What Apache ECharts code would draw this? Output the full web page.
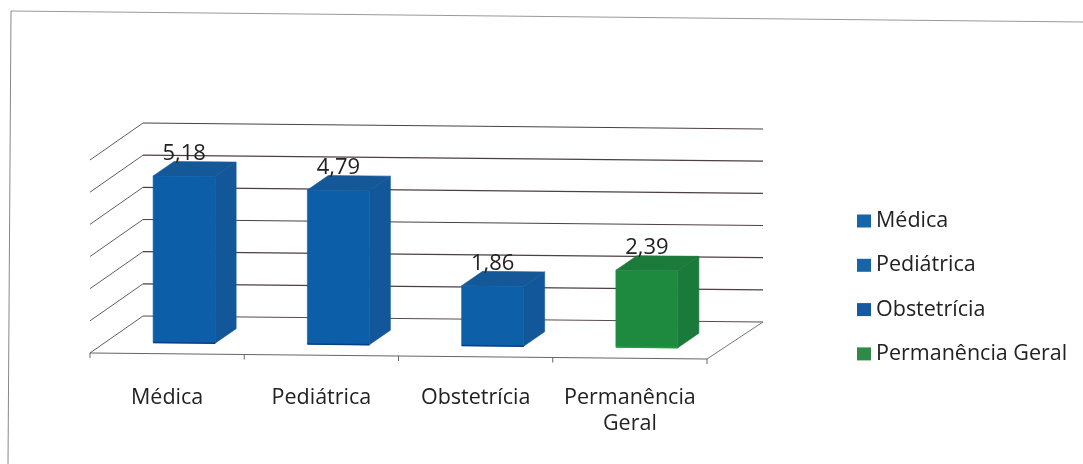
<!DOCTYPE html>
<html>
<head>
<meta charset="utf-8">
<style>html,body{margin:0;padding:0;background:#fff}#c{width:1083px;height:464px}</style>
<script src="https://cdn.jsdelivr.net/npm/echarts@6/dist/echarts.min.js"></script>
</head>
<body>
<div id="c"></div>
<script>
const categories = ['Médica', 'Pediátrica', 'Obstetrícia', 'Permanência\nGeral'];
const seriesNames = ['Médica', 'Pediátrica', 'Obstetrícia', 'Permanência Geral'];
const values = [5.18, 4.79, 1.86, 2.39];
const valueTicks = [0, 1, 2, 3, 4, 5, 6];
const frontColors = ['#0d5ea8', '#0d5ea8', '#0d5fa8', '#1d8a40'];
const sideColors = ['#11579a', '#11579a', '#11579a', '#1a7a3c'];
const topColors = ['#155897', '#155897', '#155897', '#1c7a3b'];
const edgeColors = ['#0a3f80', '#0a3f80', '#0a3f80', '#25a038'];
const legendColors = ['#1565a8', '#1565a8', '#1559a0', '#2f8a48'];

const SKEW = 0.0097, GRID_LEFT = 90;
const WALL = [53, -37], WALL_R = [56, -37], BAR_OFF = [17, -11], BAR_DEPTH = [21, -14.5], BAR_W = 62;
const sk = (x, y) => [x, y + SKEW * (x - GRID_LEFT)];
const line = (a, b, stroke, w) => ({ type: 'line', shape: { x1: a[0], y1: a[1], x2: b[0], y2: b[1] }, style: { stroke, lineWidth: w || 1 } });
const poly = (pts, fill) => ({ type: 'polygon', shape: { points: pts }, style: { fill, stroke: fill, lineWidth: 0.6 } });

function renderWall(params, api) {
  const v = api.value(0);
  const l = api.coord([0, v]);
  const band = api.size([1, 0])[0];
  const xStart = l[0] - band / 2;
  const xEnd = xStart + band * categories.length;
  const children = [];
  const fl = sk(xStart, l[1]);
  const bl = [fl[0] + WALL[0], fl[1] + WALL[1]];
  const br0 = sk(xEnd, l[1]);
  const br = [br0[0] + WALL_R[0], br0[1] + WALL_R[1]];
  children.push(line(fl, bl, '#5f5f5f'));
  children.push(line(bl, br, v === 0 ? '#5a4a4c' : '#4d3f42', 1.2));
  if (v === 0) {
    children.push(line(fl, br0, '#666', 1.2));
    children.push(line(br0, br, '#777'));
    for (let i = 0; i <= categories.length; i++) {
      const t = sk(xStart + band * i, l[1]);
      children.push(line(t, [t[0], t[1] + 5], '#666'));
    }
  }
  return { type: 'group', children };
}

function renderBar(params, api) {
  const i = api.value(0), v = api.value(1), idx = params.seriesIndex - 1;
  const c0 = api.coord([i, 0]), c1 = api.coord([i, v]);
  const xl = c0[0] - BAR_W / 2 + BAR_OFF[0], xr = xl + BAR_W;
  const yb = c0[1] + BAR_OFF[1], yt = c1[1] + BAR_OFF[1];
  const fbl = sk(xl, yb), fbr = sk(xr, yb), ftl = sk(xl, yt), ftr = sk(xr, yt);
  const d = p => [p[0] + BAR_DEPTH[0], p[1] + BAR_DEPTH[1]];
  return {
    type: 'group',
    children: [
      poly([ftr, d(ftr), d(fbr), fbr], sideColors[idx]),
      poly([ftl, d(ftl), d(ftr), ftr], topColors[idx]),
      poly([ftl, ftr, fbr, fbl], frontColors[idx]),
      line(fbl, fbr, edgeColors[idx], 1.5),
      {
        type: 'text',
        style: {
          x: (ftl[0] + ftr[0]) / 2, y: ftl[1] - 22.5,
          text: String(v).replace('.', ','),
          fill: '#222', font: '22px "Open Sans"', textAlign: 'center', textVerticalAlign: 'middle'
        }
      }
    ]
  };
}

const chart = echarts.init(document.getElementById('c'), null, { renderer: 'canvas' });
chart.setOption({
  animation: false,
  backgroundColor: '#ffffff',
  grid: { left: GRID_LEFT, width: 617, top: 160, height: 193, containLabel: false },
  xAxis: {
    type: 'category',
    data: categories,
    axisLine: { show: false }, axisTick: { show: false }, splitLine: { show: false },
    axisLabel: { margin: 32, interval: 0, color: '#222', fontFamily: 'Open Sans', fontSize: 21.5, lineHeight: 26 }
  },
  yAxis: {
    type: 'value', min: 0, max: 6, interval: 1,
    axisLine: { show: false }, axisTick: { show: false }, axisLabel: { show: false }, splitLine: { show: false }
  },
  legend: {
    orient: 'vertical', left: 852, top: 205, itemWidth: 14, itemHeight: 13, itemGap: 22.3, icon: 'rect',
    data: seriesNames,
    textStyle: { color: '#222', fontFamily: 'Open Sans', fontSize: 21.5, lineHeight: 21 },
    selectedMode: false
  },
  series: [
    { type: 'custom', name: 'grade', data: valueTicks.map(v => [v]), encode: { y: 0 }, renderItem: renderWall, silent: true, z: 1, clip: false },
    ...seriesNames.map((n, i) => ({
      type: 'custom', name: n, renderItem: renderBar, z: 2, clip: false,
      itemStyle: { color: legendColors[i] },
      encode: { x: 0, y: 1 },
      data: [[i, values[i]]]
    }))
  ],
  graphic: [
    { type: 'line', shape: { x1: 11, y1: 11, x2: 1083, y2: 22 }, style: { stroke: '#999', lineWidth: 1 }, silent: true },
    { type: 'line', shape: { x1: 11, y1: 11, x2: 8, y2: 464 }, style: { stroke: '#888', lineWidth: 1 }, silent: true }
  ]
});
</script>
</body>
</html>
